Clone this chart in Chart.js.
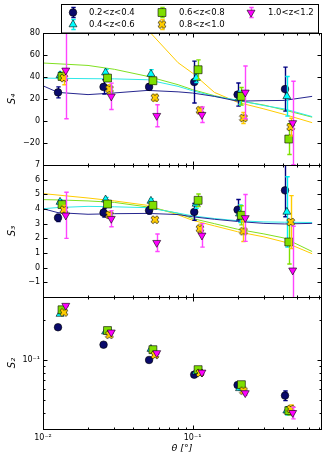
<!DOCTYPE html>
<html>
<head>
<meta charset="utf-8">
<script src="https://cdn.jsdelivr.net/npm/chart.js@4.4.0/dist/chart.umd.min.js"></script>
<style>
html, body { margin: 0; padding: 0; background: #fff; }
#wrap { position: relative; width: 327px; height: 460px; overflow: hidden; }
canvas { position: absolute; left: 0; }
</style>
</head>
<body>
<div id="wrap">
  <canvas id="c4" width="327" height="175" style="top:0px"></canvas>
  <canvas id="c3" width="327" height="152" style="top:155px"></canvas>
  <canvas id="c2" width="327" height="173" style="top:287px"></canvas>
</div>
<script>
// redshift bins
const zBins = ['0.2<z<0.4', '0.4<z<0.6', '0.6<z<0.8', '0.8<z<1.0', '1.0<z<1.2'];

// angular positions of the measurements (deg), one row per bin
const thetaPts = [
  [0.0126, 0.0254, 0.0512, 0.1026, 0.200, 0.415],
  [0.0130, 0.0262, 0.0527, 0.1057, 0.206, 0.427],
  [0.0134, 0.0270, 0.0543, 0.1089, 0.212, 0.440],
  [0.0138, 0.0278, 0.0560, 0.1121, 0.219, 0.453],
  [0.0142, 0.0286, 0.0576, 0.1155, 0.225, 0.467]
];

// S4
const s4Vals = [
  [26, 31, 31, 35.4, 24, 29],
  [41.5, 44, 42.7, 39, 21, 22.4],
  [40.5, 39, 36.6, 46.6, 22.4, -16.4],
  [39, 29, 21.2, 9.7, 2.7, -5.5],
  [46, 22.4, 4.8, 5.7, 26, -1.8]
];
const s4Errs = [
  [5, 6.5, 3, 19, 10.5, 20],
  [3, 3, 4, 4, 6, 18],
  [3, 3, 3, 9, 8, 14],
  [6, 4, 3, 3, 5, 8],
  [44, 12, 10, 7, 24, 38]
];

// S3
const s3Vals = [
  [3.4, 3.75, 3.9, 3.8, 3.95, 5.27],
  [4.48, 4.64, 4.55, 4.35, 3.68, 3.8],
  [4.3, 4.34, 4.25, 4.59, 3.57, 1.75],
  [3.95, 3.6, 3.27, 2.66, 2.48, 3.11],
  [3.57, 3.34, 1.7, 2.2, 3.39, -0.18]
];
const s3Errs = [
  [0.25, 0.3, 0.25, 0.57, 0.7, 1.8],
  [0.15, 0.15, 0.15, 0.3, 0.6, 2.4],
  [0.2, 0.2, 0.2, 0.43, 0.65, 1.5],
  [0.3, 0.2, 0.15, 0.3, 0.7, 1.8],
  [1.57, 0.55, 0.6, 0.8, 1.6, 3.0]
];

// S2
const s2Vals = [
  [0.177, 0.1306, 0.100, 0.0774, 0.0646, 0.0537],
  [0.223, 0.164, 0.121, 0.0815, 0.061, 0.0413],
  [0.240, 0.167, 0.1197, 0.0845, 0.065, 0.0413],
  [0.229, 0.155, 0.109, 0.0797, 0.0585, 0.0426],
  [0.258, 0.162, 0.113, 0.0805, 0.0562, 0.0398]
];
const s2Errs = [
  [0.003, 0.003, 0.002, 0.002, 0.002, 0.0045],
  [0.004, 0.003, 0.002, 0.002, 0.002, 0.003],
  [0.004, 0.003, 0.002, 0.002, 0.002, 0.003],
  [0.004, 0.003, 0.002, 0.002, 0.002, 0.003],
  [0.004, 0.003, 0.002, 0.002, 0.002, 0.004]
];

// model curves (first four bins only)
const modelTheta = [0.01, 0.0126, 0.02, 0.03, 0.05, 0.08, 0.1, 0.14, 0.2, 0.3, 0.41, 0.63];
const s4Model = [
  [32, 26, 24, 25.5, 27.8, 26.5, 25.4, 22.4, 18, 18.5, 18.7, 22.4],
  [39, 38.8, 38.5, 38.3, 37.5, 31.5, 27.5, 22.4, 19, 14, 11, 4],
  [52.7, 52, 50.5, 47, 40.6, 33, 28.5, 23, 18.5, 14.5, 10, 3.5],
  [null, null, null, null, 83, 53, 43.5, 26, 17, 11, 6, -1.5]
];
const s3Model = [
  [4.02, 3.75, 3.64, 3.68, 3.7, 3.62, 3.47, 3.3, 3.15, 3.02, 2.98, 3.02],
  [4.02, 4.1, 4.18, 4.15, 4.09, 3.72, 3.53, 3.35, 3.2, 3.12, 3.1, 3.08],
  [4.64, 4.62, 4.55, 4.45, 4.14, 3.7, 3.35, 3.0, 2.62, 2.3, 2.02, 1.1],
  [5.05, 4.95, 4.75, 4.55, 4.25, 3.6, 3.23, 2.85, 2.45, 2.1, 1.75, 0.95]
];

// styles
const markerFill = ['#0a0a6b', '#00ffff', '#7fdf00', '#ffcc00', '#ff00ff'];
const errColor = ['#000080', '#00eeee', '#7fdf00', '#ffcc00', '#ff44ff'];
const lineColor = ['#26268f', '#2ee8e8', '#80e020', '#ffcc00'];

Chart.defaults.font.family = 'DejaVu Sans';
Chart.defaults.font.size = 8;
Chart.defaults.color = '#000';

function makeX(size, fill) {
  const c = document.createElement('canvas');
  c.width = c.height = size;
  const g = c.getContext('2d');
  const L = size * 0.42, t = size * 0.15;
  const pts = [[-t,-L],[t,-L],[t,-t],[L,-t],[L,t],[t,t],[t,L],[-t,L],[-t,t],[-L,t],[-L,-t],[-t,-t]];
  g.translate(size / 2, size / 2);
  g.rotate(Math.PI / 4);
  g.beginPath();
  pts.forEach((p, i) => i ? g.lineTo(p[0], p[1]) : g.moveTo(p[0], p[1]));
  g.closePath();
  g.fillStyle = fill;
  g.fill();
  g.lineWidth = 0.6;
  g.strokeStyle = '#000';
  g.stroke();
  return c;
}
const xMarker = makeX(10, markerFill[3]);

const pointStyles = ['circle', 'triangle', 'rect', xMarker, 'triangle'];
const pointRadius = [3.8, 4.6, 5.6, 4, 4.6];
const pointRotation = [0, 0, 0, 0, 180];

function pointSets(vals, errs) {
  return zBins.map((lab, i) => ({
    label: lab,
    data: thetaPts[i].map((t, k) => ({ x: t, y: vals[i][k] })),
    errors: errs[i],
    errColor: errColor[i],
    showLine: false,
    pointStyle: pointStyles[i],
    pointRadius: pointRadius[i],
    pointRotation: pointRotation[i],
    backgroundColor: markerFill[i],
    borderColor: '#000',
    borderWidth: 0.6,
    order: 5 - i
  }));
}
function modelSets(model) {
  return model.map((m, i) => ({
    data: modelTheta.map((t, k) => ({ x: t, y: m[k] })),
    showLine: true,
    pointRadius: 0,
    borderColor: lineColor[i],
    borderWidth: 1,
    order: 10
  }));
}

function logTicks(min, max) {
  const out = [];
  for (let e = Math.floor(Math.log10(min)); e <= Math.ceil(Math.log10(max)); e++) {
    for (let m = 1; m < 10; m++) {
      const v = m * Math.pow(10, e);
      if (v > min * 1.0001 && v < max * 0.9999) out.push({ v: v, major: m === 1 });
    }
  }
  return out;
}
const isPow = (v, p) => Math.abs(Math.log10(v) - p) < 1e-6;

const errorBars = {
  id: 'errorBars',
  beforeDatasetDraw(chart, args) {
    const ds = chart.data.datasets[args.index];
    if (!ds.errors) return;
    const ys = chart.scales[args.meta.yAxisID];
    const a = chart.chartArea, ctx = chart.ctx;
    ctx.save();
    ctx.beginPath();
    ctx.rect(a.left, a.top, a.right - a.left, a.bottom - a.top);
    ctx.clip();
    ctx.strokeStyle = ds.errColor;
    ctx.lineWidth = 1.4;
    args.meta.data.forEach((pt, k) => {
      const v = ds.data[k].y, e = ds.errors[k];
      const x = Math.round(pt.x) + 0.5;
      const y1 = ys.getPixelForValue(v + e), y2 = ys.getPixelForValue(v - e);
      ctx.beginPath();
      ctx.moveTo(x, y1); ctx.lineTo(x, y2);
      ctx.moveTo(x - 2.2, y1); ctx.lineTo(x + 2.2, y1);
      ctx.moveTo(x - 2.2, y2); ctx.lineTo(x + 2.2, y2);
      ctx.stroke();
    });
    ctx.restore();
  }
};

// matplotlib-like frame with inward ticks on all four sides
const frameTicks = {
  id: 'frameTicks',
  afterDraw(chart) {
    const ctx = chart.ctx, a = chart.chartArea;
    const L = Math.round(a.left) + 0.5, R = Math.round(a.right) + 0.5;
    const T = Math.round(a.top) + 0.5, B = Math.round(a.bottom) + 0.5;
    const xs = chart.scales.x, ys = chart.scales.y;
    ctx.save();
    ctx.strokeStyle = '#000';
    ctx.lineWidth = 1;
    ctx.beginPath();
    logTicks(xs.min, xs.max).forEach(t => {
      const px = Math.round(xs.getPixelForValue(t.v)) + 0.5;
      const len = t.major ? 4 : 2;
      ctx.moveTo(px, B); ctx.lineTo(px, B - len);
      ctx.moveTo(px, T); ctx.lineTo(px, T + len);
    });
    const yt = ys.type === 'logarithmic'
      ? logTicks(ys.min, ys.max)
      : ys.ticks.filter(t => t.value > ys.min && t.value < ys.max).map(t => ({ v: t.value, major: true }));
    yt.forEach(t => {
      const py = Math.round(ys.getPixelForValue(t.v)) + 0.5;
      const len = t.major ? 4 : 2;
      ctx.moveTo(L, py); ctx.lineTo(L + len, py);
      ctx.moveTo(R, py); ctx.lineTo(R - len, py);
    });
    ctx.stroke();
    ctx.strokeRect(L, T, R - L, B - T);
    ctx.restore();
  }
};

function drawMarker(ctx, i, x, y) {
  ctx.save();
  ctx.strokeStyle = errColor[i];
  ctx.lineWidth = 1.4;
  ctx.beginPath();
  ctx.moveTo(x + 0.5, y - 5); ctx.lineTo(x + 0.5, y + 5);
  ctx.moveTo(x - 1.7, y - 5); ctx.lineTo(x + 2.7, y - 5);
  ctx.moveTo(x - 1.7, y + 5); ctx.lineTo(x + 2.7, y + 5);
  ctx.stroke();
  ctx.fillStyle = markerFill[i];
  ctx.strokeStyle = '#000';
  ctx.lineWidth = 0.6;
  const r = pointRadius[i];
  ctx.beginPath();
  if (i === 0) {
    ctx.arc(x, y, r, 0, Math.PI * 2);
  } else if (i === 1 || i === 4) {
    const s = i === 4 ? -1 : 1;
    ctx.moveTo(x, y - s * r);
    ctx.lineTo(x + r * 0.866, y + s * r * 0.5);
    ctx.lineTo(x - r * 0.866, y + s * r * 0.5);
    ctx.closePath();
  } else if (i === 2) {
    const h = r * Math.SQRT1_2;
    ctx.rect(x - h, y - h, 2 * h, 2 * h);
  }
  if (i === 3) {
    ctx.drawImage(xMarker, x - 5, y - 5);
  } else {
    ctx.fill();
    ctx.stroke();
  }
  ctx.restore();
}

const legendBox = {
  id: 'legendBox',
  afterDraw(chart) {
    const ctx = chart.ctx;
    ctx.save();
    ctx.fillStyle = '#fff';
    ctx.fillRect(61.5, 4.5, 257, 28.5);
    ctx.strokeStyle = '#000';
    ctx.lineWidth = 1;
    ctx.strokeRect(61.5, 4.5, 257, 28.5);
    const mx = [73, 162, 251], tx = [89, 179, 268], ry = [12.5, 24.5];
    ctx.font = '8.5px "DejaVu Sans"';
    ctx.textBaseline = 'middle';
    ctx.fillStyle = '#000';
    zBins.forEach((lab, i) => {
      const col = Math.floor(i / 2), row = i % 2;
      drawMarker(ctx, i, mx[col], ry[row]);
      ctx.fillStyle = '#000';
      ctx.fillText(lab, tx[col], ry[row]);
    });
    ctx.restore();
  }
};

const minus = v => String(v).replace('-', '\u2212');

function yTitle(text) {
  return { display: true, text: text, font: { size: 10, style: 'italic' }, padding: { top: 6, bottom: 0 } };
}

const noGrid = { display: false, drawTicks: false };

function makeChart(id, datasets, yScale, xExtra, padding, extraPlugins) {
  const xScale = Object.assign({
    type: 'logarithmic', min: 0.01, max: 0.72, display: false,
    grid: noGrid, border: { display: false }
  }, xExtra);
  return new Chart(document.getElementById(id), {
    type: 'scatter',
    data: { datasets: datasets },
    options: {
      responsive: false,
      animation: false,
      devicePixelRatio: 1,
      events: [],
      layout: { padding: padding },
      plugins: { legend: { display: false }, tooltip: { enabled: false } },
      scales: { x: xScale, y: yScale }
    },
    plugins: [errorBars, frameTicks].concat(extraPlugins || [])
  });
}

makeChart('c4', modelSets(s4Model).concat(pointSets(s4Vals, s4Errs)), {
  min: -40, max: 80,
  grid: noGrid, border: { display: false },
  ticks: { stepSize: 20, padding: 3, callback: v => v === -40 ? null : minus(v) },
  title: yTitle('S\u2084'),
  afterFit: s => { s.width = 43; }
}, {}, { top: 33, bottom: 10, left: 0, right: 5 }, [legendBox]);

makeChart('c3', modelSets(s3Model).concat(pointSets(s3Vals, s3Errs)), {
  min: -2, max: 7,
  grid: noGrid, border: { display: false },
  ticks: { stepSize: 1, padding: 3, callback: v => v === -2 ? null : minus(v) },
  title: yTitle('S\u2083'),
  afterFit: s => { s.width = 43; }
}, {}, { top: 10, bottom: 10, left: 0, right: 5 });

makeChart('c2', pointSets(s2Vals, s2Errs), {
  type: 'logarithmic', min: 0.03, max: 0.3,
  grid: noGrid, border: { display: false },
  ticks: { padding: 3, autoSkip: false, callback: v => isPow(v, -1) ? '10\u207b\u00b9' : null },
  title: yTitle('S\u2082'),
  afterFit: s => { s.width = 43; }
}, {
  display: true,
  ticks: {
    padding: 4, autoSkip: false, maxRotation: 0, minRotation: 0,
    callback: v => isPow(v, -2) ? '10\u207b\u00b2' : (isPow(v, -1) ? '10\u207b\u00b9' : null)
  },
  title: { display: true, text: '\u03b8 [\u00b0]', font: { size: 9.5, style: 'italic' }, padding: { top: 0, bottom: 6 } },
  afterFit: s => { s.height = 31; }
}, { top: 10, bottom: 0, left: 0, right: 5 });
</script>
</body>
</html>
